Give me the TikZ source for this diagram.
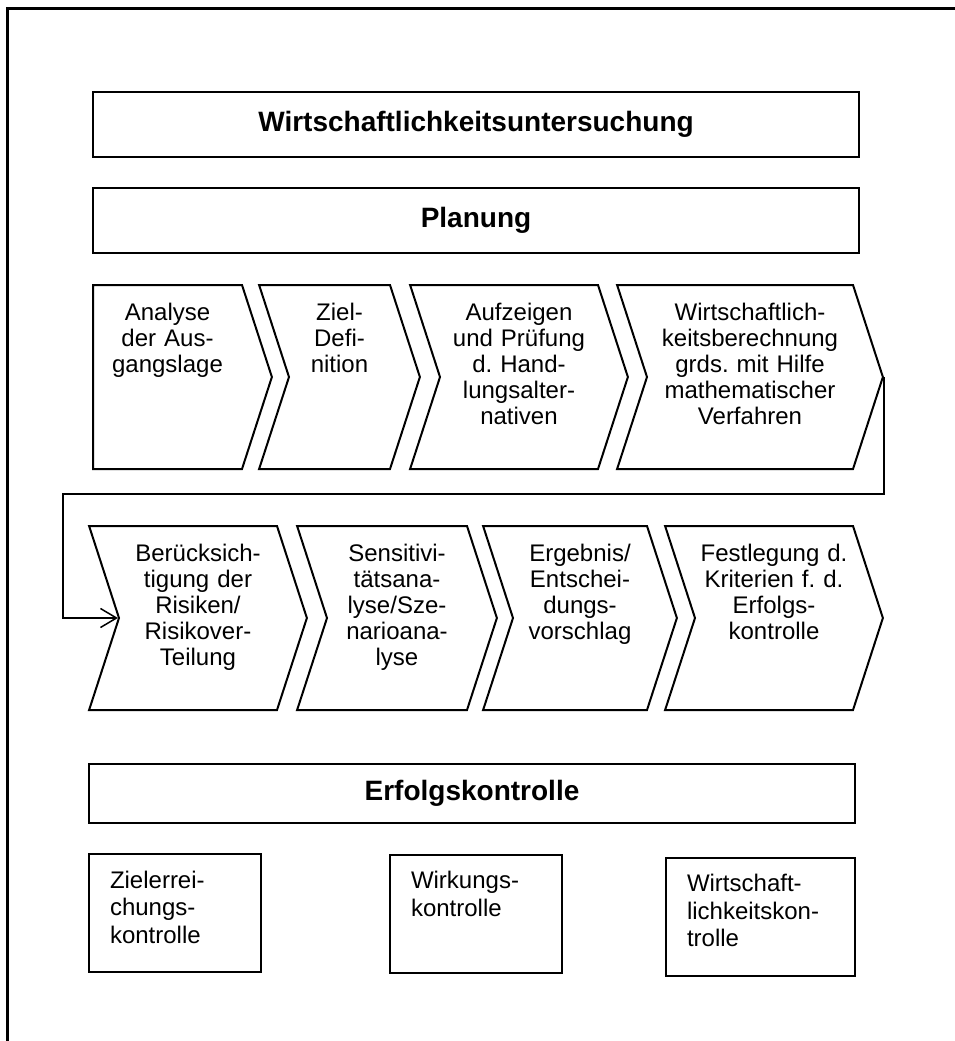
\documentclass[tikz,border=0pt]{standalone}
\usepackage{fontspec}
\setmainfont{Liberation Sans}
\usetikzlibrary{arrows.meta, positioning, shapes.symbols}
\frenchspacing

\begin{document}
\begin{tikzpicture}[x=1pt, y=-1pt,
  every node/.style={font=\fontsize{24}{26}\selectfont},
  headbox/.style={rectangle, draw, line width=2pt, minimum width=766pt,
    minimum height=65pt, font=\fontsize{28}{32}\selectfont\bfseries},
  chev/.style={signal, signal to=east, signal from=west, draw, line width=2pt,
    signal pointer angle=144, align=center, inner sep=0pt,
    minimum height=184pt, text height=35pt, text depth=149pt},
  firstchev/.style={chev, signal from=nowhere},
  ctrlbox/.style={rectangle, draw, line width=2pt, align=left,
    inner xsep=21pt, inner ysep=0pt, text height=34pt, text depth=84pt,
    font=\fontsize{24}{27.5}\selectfont},
  conn/.style={line width=1.5pt, -{Straight Barb[length=16pt,width=19pt]}}]

\useasboundingbox (0,0) rectangle (955,1041);
\draw[line width=3pt] (7,1041) -- (7,9) -- (955,9);

% Kopf
\node[headbox] (wu) at (476,124.5) {Wirtschaftlichkeitsuntersuchung};
\node[headbox, below=29pt of wu] (plan) {Planung};

% Planungsschritte, erste Reihe
\node[firstchev, text width=149pt] (ausgang) at (167.5,377) {Analyse\\der Aus-\\gangslage};
\node[chev, text width=101pt] (ziel) at (339.5,377) {Ziel-\\Defi-\\nition};
\node[chev, text width=158pt] (alternat) at (519,377) {Aufzeigen\\und Prüfung\\d. Hand-\\lungsalter-\\nativen};
\node[chev, text width=206pt] (berech) at (750,377) {Wirtschaftlich-\\keitsberechnung\\grds. mit Hilfe\\mathematischer\\Verfahren};

% zweite Reihe
\node[chev, text width=158pt] (risiko) at (198,618) {Berücksich-\\tigung der\\Risiken/\\Risikover-\\Teilung};
\node[chev, text width=140pt] (sensitiv) at (397,618) {Sensitivi-\\tätsana-\\lyse/Sze-\\narioana-\\lyse};
\node[chev, text width=134pt] (ergebnis) at (580,618) {Ergebnis/\\Entschei-\\dungs-\\vorschlag};
\node[chev, text width=158pt] (kriterien) at (774,618) {Festlegung d.\\Kriterien f. d.\\Erfolgs-\\kontrolle};

\coordinate (umlauf) at (63,494);
\draw[conn] (berech.east) |- (umlauf) |- (risiko.west);

% Erfolgskontrolle
\node[headbox, minimum height=59pt] (erfolg) at (472,793.5) {Erfolgskontrolle};
\node[ctrlbox, text width=130pt] (zielerr) at (175,913) {Zielerrei-\\chungs-\\kontrolle};
\node[ctrlbox, text width=130pt] (wirkung) at (476,913.5) {Wirkungs-\\kontrolle};
\node[ctrlbox, text width=147pt] (wirtkontr) at (760.5,916.5) {Wirtschaft-\\lichkeitskon-\\trolle};

\end{tikzpicture}
\end{document}
